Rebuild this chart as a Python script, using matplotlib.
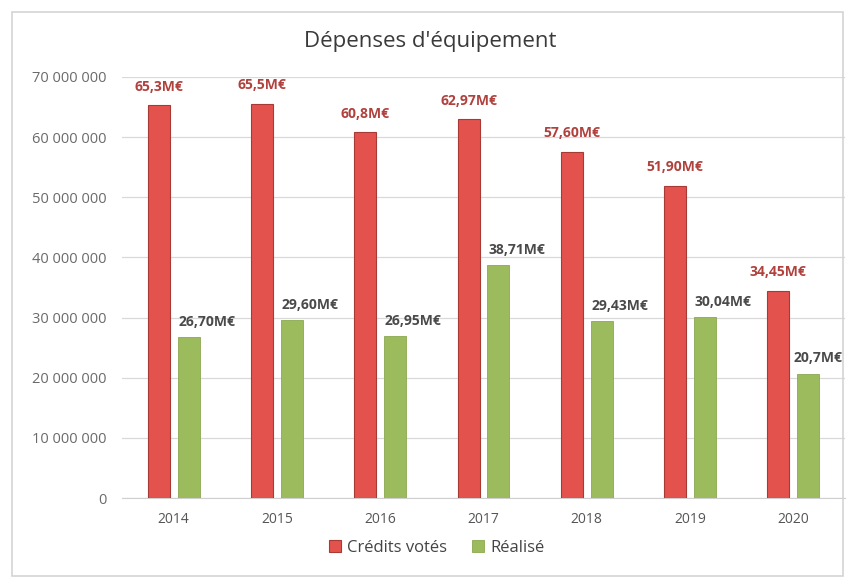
import matplotlib.pyplot as plt
import matplotlib.patches as patches
from matplotlib.ticker import FuncFormatter, MultipleLocator
import numpy as np

# data (millions d'euros)
annees = ['2014', '2015', '2016', '2017', '2018', '2019', '2020']
credits_votes = [65.3, 65.5, 60.8, 62.97, 57.60, 51.90, 34.45]
realise = [26.70, 29.60, 26.95, 38.71, 29.43, 30.04, 20.7]
labels_credits = ['65,3M€', '65,5M€', '60,8M€', '62,97M€', '57,60M€', '51,90M€', '34,45M€']
labels_realise = ['26,70M€', '29,60M€', '26,95M€', '38,71M€', '29,43M€', '30,04M€', '20,7M€']

plt.rcParams['font.family'] = ['Open Sans', 'DejaVu Sans']

fig = plt.figure(figsize=(8.47, 5.78), dpi=100)
ax = fig.add_axes([122/847, 1-498/578, 723/847, 421/578])

x = np.arange(len(annees))
w = 0.213
off = 0.145
rouge = '#e4524e'
vert = '#9cbb5c'

b1 = ax.bar(x - off, np.array(credits_votes)*1e6, w, color=rouge, edgecolor='#a83a36',
            linewidth=0.8, label='Crédits votés', zorder=3)
b2 = ax.bar(x + off, np.array(realise)*1e6, w, color=vert, edgecolor='#8ba84f',
            linewidth=0.6, label='Réalisé', zorder=3)

# étiquettes de valeurs
for xi, v, t in zip(x, credits_votes, labels_credits):
    ax.annotate(t, (xi - off, v*1e6), xytext=(0, 13.5), textcoords='offset points',
                ha='center', va='center', fontsize=10, fontweight='bold', color='#b0413d')
for i, (xi, v, t) in enumerate(zip(x, realise, labels_realise)):
    dx = 13 if i < len(x) - 1 else 7   # la dernière reste dans le cadre
    ax.annotate(t, (xi + off, v*1e6), xytext=(dx, 11), textcoords='offset points',
                ha='center', va='center', fontsize=10, fontweight='bold', color='#4a4a4a')

ax.set_xlim(-0.5, 6.5)
ax.set_ylim(0, 70e6)
ax.yaxis.set_major_locator(MultipleLocator(10e6))
ax.yaxis.set_major_formatter(FuncFormatter(lambda v, p: '{:,.0f}'.format(v).replace(',', ' ')))
ax.set_xticks(x)
ax.set_xticklabels(annees)
ax.tick_params(axis='y', length=0, pad=11, labelsize=10.5, labelcolor='#6a6a6a')
ax.tick_params(axis='x', length=0, pad=10, labelsize=10, labelcolor='#555555')
ax.grid(axis='y', color='#d9d9d9', linewidth=0.9, zorder=0)
for s in ['top', 'right', 'left']:
    ax.spines[s].set_visible(False)
ax.spines['bottom'].set_color('#cfcfcf')

fig.text(430/847, 1-42/578, "Dépenses d'équipement", ha='center', va='center',
         fontsize=16, color='#3a3a3a')

fig.legend(handles=[b1, b2], loc='center', bbox_to_anchor=(437/847, 1-548/578), ncol=2,
           frameon=False, fontsize=12, handlelength=0.7, handleheight=0.7,
           handletextpad=0.4, columnspacing=1.5, labelcolor='#444444')

# cadre du graphique
fig.patches.append(patches.Rectangle((12/847, 2/578), 831/847, 564/578,
                                     transform=fig.transFigure, fill=False,
                                     edgecolor='#d4d4d4', linewidth=1.2))

fig.savefig('out.png', dpi=100)
